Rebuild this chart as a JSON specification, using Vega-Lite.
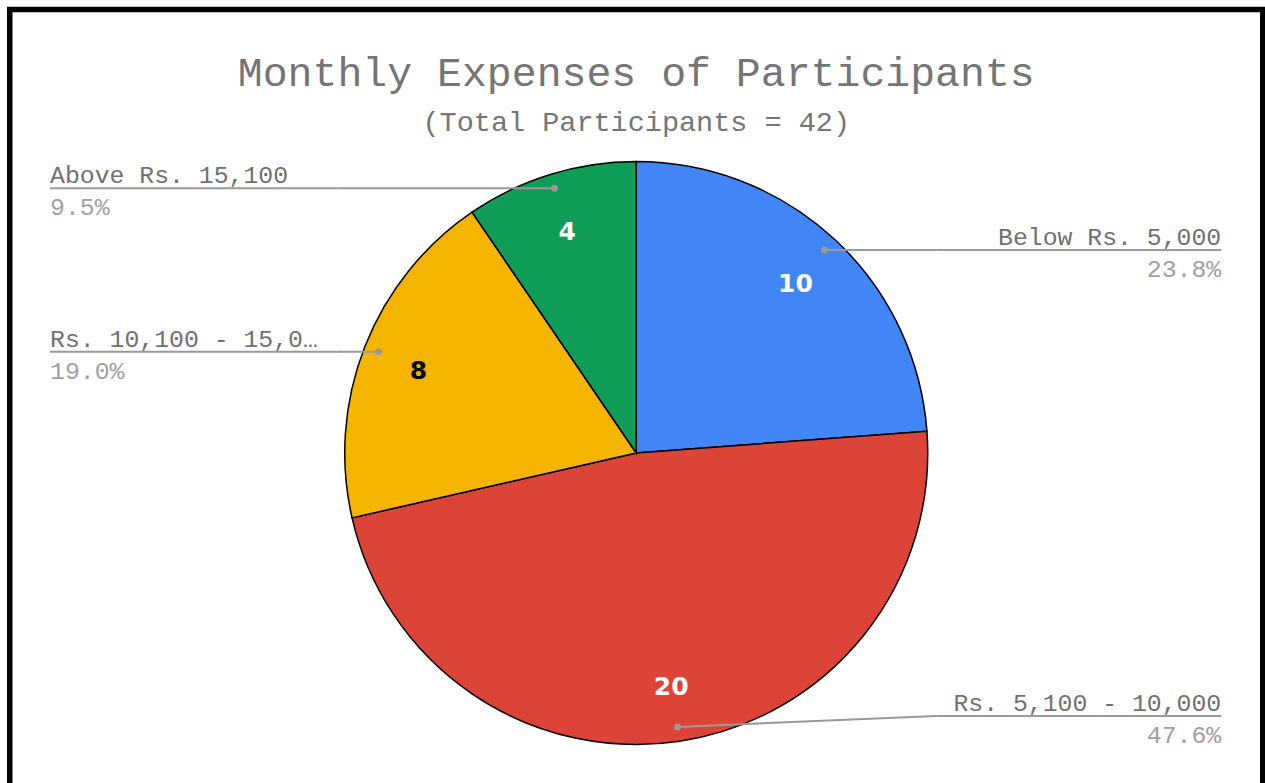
{
  "$schema": "https://vega.github.io/schema/vega-lite/v6.json",
  "width": 1265,
  "height": 783,
  "autosize": {"type": "fit", "contains": "padding"},
  "padding": {"left": 9.75, "top": 9.5, "right": 2.25, "bottom": -113.5},
  "background": "white",
  "title": {
    "text": "Monthly Expenses of Participants",
    "subtitle": "(Total Participants = 42)",
    "font": "Liberation Mono",
    "fontSize": 41.5,
    "fontWeight": "normal",
    "color": "#757575",
    "subtitleFont": "Liberation Mono",
    "subtitleFontSize": 28.5,
    "subtitleColor": "#757575",
    "subtitlePadding": 14,
    "anchor": "middle",
    "offset": -127
  },
  "config": {"view": {"stroke": "black", "strokeWidth": 5.5}},
  "data": {
    "values": [
      {"category": "Below Rs. 5,000", "count": 10},
      {"category": "Rs. 5,100 - 10,000", "count": 20},
      {"category": "Rs. 10,100 - 15,000", "count": 8},
      {"category": "Above Rs. 15,100", "count": 4}
    ]
  },
  "transform": [
    {"window": [{"op": "row_number", "as": "idx"}]},
    {"joinaggregate": [{"op": "sum", "field": "count", "as": "total"}]},
    {"stack": "count", "groupby": [], "sort": [{"field": "idx"}], "as": ["c0", "c1"]},
    {"calculate": "datum.count / datum.total", "as": "pct"},
    {"calculate": "datum.c0 / datum.total", "as": "t0"},
    {"calculate": "datum.c1 / datum.total", "as": "t1"},
    {"calculate": "(datum.t0 + datum.t1) / 2", "as": "tm"},
    {"calculate": "277 * sin(2 * PI * datum.tm)", "as": "dx"},
    {"calculate": "277 * cos(2 * PI * datum.tm)", "as": "dy"},
    {"calculate": "datum.dx >= 0 ? 1 : -1", "as": "side"},
    {"calculate": "max(datum.dy, -263)", "as": "ly"},
    {"calculate": "datum.side * 300", "as": "bx"},
    {"calculate": "datum.side > 0 ? 585 : -586.25", "as": "ex"}
  ],
  "layer": [
    {
      "mark": {"type": "arc", "outerRadius": 291.5, "stroke": "black", "strokeWidth": 1.5},
      "encoding": {
        "theta": {"field": "t0", "type": "quantitative", "stack": null, "scale": {"domain": [0, 1]}},
        "theta2": {"field": "t1"},
        "color": {
          "field": "category",
          "type": "nominal",
          "scale": {
            "domain": ["Below Rs. 5,000", "Rs. 5,100 - 10,000", "Rs. 10,100 - 15,000", "Above Rs. 15,100"],
            "range": ["#4285F4", "#DB4437", "#F4B400", "#0F9D58"]
          },
          "legend": null
        }
      }
    },
    {
      "mark": {"type": "text", "radius": 234, "dy": 3, "font": "DejaVu Sans", "fontWeight": "bold", "fontSize": 25, "align": "center", "baseline": "middle"},
      "encoding": {
        "theta": {"field": "tm", "type": "quantitative", "stack": null, "scale": {"domain": [0, 1]}},
        "text": {"field": "count", "type": "quantitative"},
        "color": {"condition": {"test": "datum.category === 'Rs. 10,100 - 15,000'", "value": "black"}, "value": "white"}
      }
    },
    {
      "mark": {"type": "rule", "color": "#9a9a9a", "strokeWidth": 2},
      "encoding": {
        "x": {"field": "dx", "type": "quantitative", "scale": {"domain": [-626.5, 626.5], "nice": false, "zero": false}, "axis": null},
        "y": {"field": "dy", "type": "quantitative", "scale": {"domain": [-443.5, 443.5], "nice": false, "zero": false}, "axis": null},
        "x2": {"field": "bx"},
        "y2": {"field": "ly"}
      }
    },
    {
      "mark": {"type": "rule", "color": "#9a9a9a", "strokeWidth": 2},
      "encoding": {
        "x": {"field": "bx", "type": "quantitative"},
        "y": {"field": "ly", "type": "quantitative"},
        "x2": {"field": "ex"},
        "y2": {"field": "ly"}
      }
    },
    {
      "mark": {"type": "point", "filled": true, "size": 45, "color": "#9a9a9a", "opacity": 1},
      "encoding": {
        "x": {"field": "dx", "type": "quantitative"},
        "y": {"field": "dy", "type": "quantitative"}
      }
    },
    {
      "transform": [{"filter": "datum.side < 0"}],
      "mark": {"type": "text", "align": "left", "baseline": "alphabetic", "dy": -5, "font": "Liberation Mono", "fontSize": 24.8, "color": "#707070", "limit": 275},
      "encoding": {
        "x": {"field": "ex", "type": "quantitative"},
        "y": {"field": "ly", "type": "quantitative"},
        "text": {"field": "category"}
      }
    },
    {
      "transform": [{"filter": "datum.side > 0"}],
      "mark": {"type": "text", "align": "right", "baseline": "alphabetic", "dy": -5, "font": "Liberation Mono", "fontSize": 24.8, "color": "#707070", "limit": 275},
      "encoding": {
        "x": {"field": "ex", "type": "quantitative"},
        "y": {"field": "ly", "type": "quantitative"},
        "text": {"field": "category"}
      }
    },
    {
      "transform": [{"filter": "datum.side < 0"}],
      "mark": {"type": "text", "align": "left", "baseline": "alphabetic", "dy": 27, "font": "Liberation Mono", "fontSize": 24.8, "color": "#a0a0a0"},
      "encoding": {
        "x": {"field": "ex", "type": "quantitative"},
        "y": {"field": "ly", "type": "quantitative"},
        "text": {"field": "pct", "type": "quantitative", "format": ".1%"}
      }
    },
    {
      "transform": [{"filter": "datum.side > 0"}],
      "mark": {"type": "text", "align": "right", "baseline": "alphabetic", "dy": 27, "font": "Liberation Mono", "fontSize": 24.8, "color": "#a0a0a0"},
      "encoding": {
        "x": {"field": "ex", "type": "quantitative"},
        "y": {"field": "ly", "type": "quantitative"},
        "text": {"field": "pct", "type": "quantitative", "format": ".1%"}
      }
    }
  ]
}
